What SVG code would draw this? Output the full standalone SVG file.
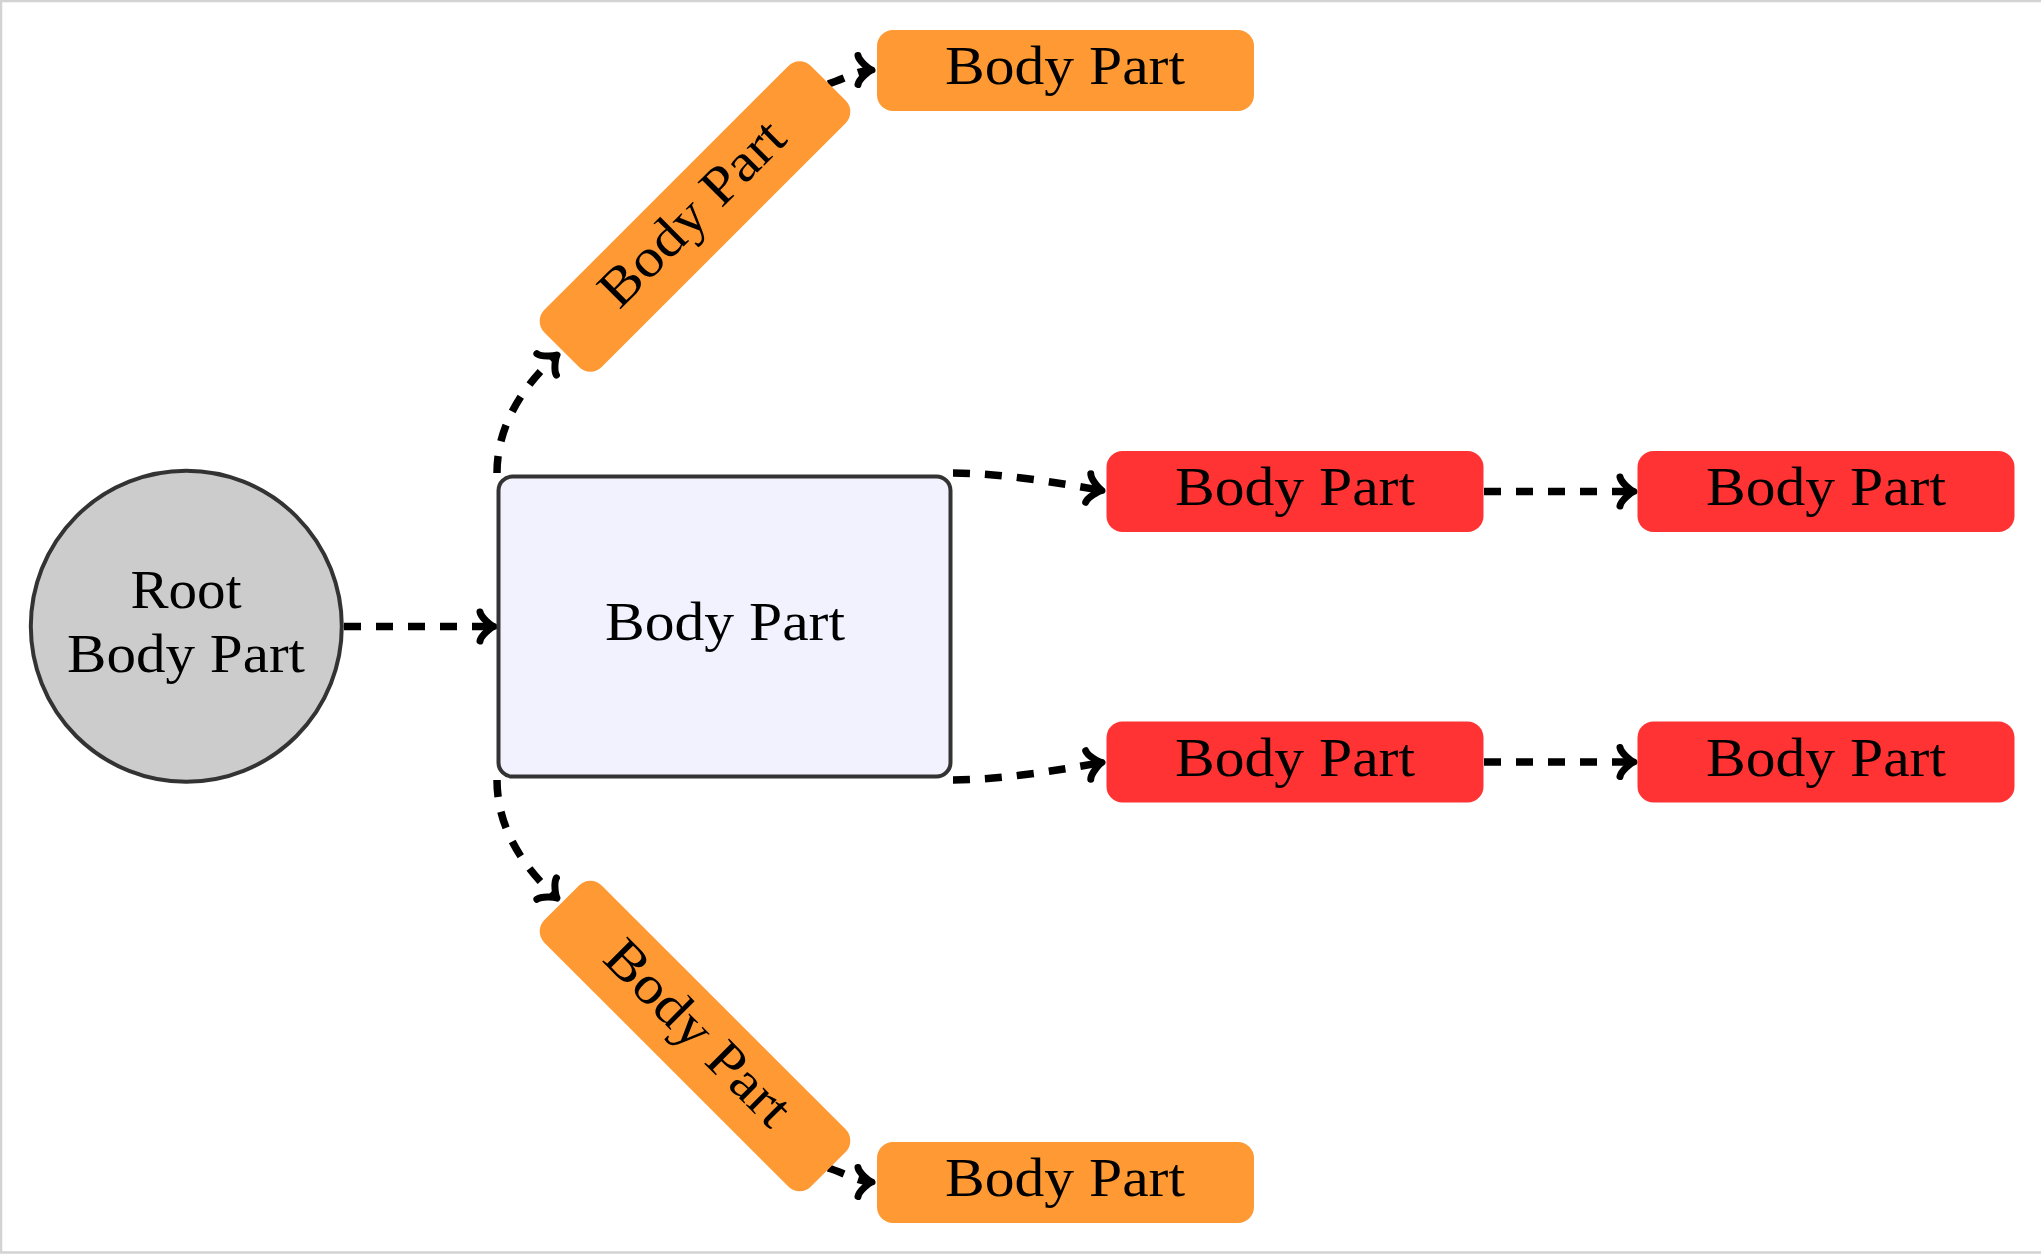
<svg xmlns="http://www.w3.org/2000/svg" width="2041" height="1254" viewBox="0 0 2041 1254">
  <style>
    .lbl { font-family: "Liberation Serif", "DejaVu Serif", serif; font-size: 54px; fill: #000; text-anchor: middle; }
    .orange { fill: #ff9933; }
    .red { fill: #ff3333; }
    .conn { fill: none; stroke: #000; stroke-width: 7.5; stroke-dasharray: 17 15; marker-end: url(#arr); }
  </style>
  <defs>
    <marker id="arr" markerUnits="userSpaceOnUse" viewBox="-25 -25 50 50" markerWidth="50" markerHeight="50" refX="0" refY="0" orient="auto" overflow="visible">
      <path d="M -14 14.5 C -13 9 -3 1 0 0 C -3 -1 -13 -9 -14 -14.5" fill="none" stroke="#000" stroke-width="7" stroke-linecap="round" stroke-linejoin="round" stroke-dasharray="none"/>
    </marker>
  </defs>
  <rect x="0" y="0" width="2041" height="1254" fill="#ffffff"/>
  <rect x="1" y="1" width="2070" height="1251.5" fill="none" stroke="#d3d3d3" stroke-width="2.5"/>

  <g id="connectors">
    <path class="conn" d="M 344 626.5 L 494 626.5"/>
    <path class="conn" d="M 497 473 C 497 425 523 386 557 355"/>
    <path class="conn" d="M 497 780 C 497 828 523 867 557 898"/>
    <path class="conn" d="M 953 473 C 1000 473 1060 483 1102 490.5"/>
    <path class="conn" d="M 953 780 C 1000 780 1060 770 1102 762.5"/>
    <path class="conn" d="M 1484 491.5 L 1634 491.5"/>
    <path class="conn" d="M 1484 762 L 1634 762"/>
    <path class="conn" d="M 828 84 C 845 79 858 70 872 70"/>
    <path class="conn" d="M 828 1168 C 845 1173 858 1182 872 1182"/>
  </g>

  <g id="root">
    <circle cx="186.3" cy="626.3" r="155.5" fill="#cccccc" stroke="#333333" stroke-width="4"/>
    <text class="lbl" x="186" y="608" textLength="111" lengthAdjust="spacingAndGlyphs">Root</text>
    <text class="lbl" x="186" y="672" textLength="238" lengthAdjust="spacingAndGlyphs">Body Part</text>
  </g>

  <g id="center">
    <rect x="498.5" y="476.5" width="452" height="300" rx="14" fill="#f2f2ff" stroke="#333333" stroke-width="4"/>
    <text class="lbl" x="725" y="640" textLength="240" lengthAdjust="spacingAndGlyphs">Body Part</text>
  </g>

  <g id="diag-top" transform="translate(695,216.5) rotate(-45)">
    <rect class="orange" x="-188.5" y="-40.5" width="377" height="81" rx="16"/>
    <text class="lbl" x="0" y="13" textLength="240" lengthAdjust="spacingAndGlyphs">Body Part</text>
  </g>

  <g id="diag-bottom" transform="translate(695,1036) rotate(45)">
    <rect class="orange" x="-188.5" y="-40.5" width="377" height="81" rx="16"/>
    <text class="lbl" x="0" y="13" textLength="240" lengthAdjust="spacingAndGlyphs">Body Part</text>
  </g>

  <g id="orange-top">
    <rect class="orange" x="877" y="30" width="377" height="81" rx="16"/>
    <text class="lbl" x="1065" y="83.5" textLength="240" lengthAdjust="spacingAndGlyphs">Body Part</text>
  </g>

  <g id="orange-bottom">
    <rect class="orange" x="877" y="1142" width="377" height="81" rx="16"/>
    <text class="lbl" x="1065" y="1195.5" textLength="240" lengthAdjust="spacingAndGlyphs">Body Part</text>
  </g>

  <g id="red-1">
    <rect class="red" x="1106.5" y="451" width="377" height="81" rx="16"/>
    <text class="lbl" x="1295" y="505" textLength="240" lengthAdjust="spacingAndGlyphs">Body Part</text>
  </g>

  <g id="red-2">
    <rect class="red" x="1637.5" y="451" width="377" height="81" rx="16"/>
    <text class="lbl" x="1826" y="505" textLength="240" lengthAdjust="spacingAndGlyphs">Body Part</text>
  </g>

  <g id="red-3">
    <rect class="red" x="1106.5" y="721.5" width="377" height="81" rx="16"/>
    <text class="lbl" x="1295" y="775.5" textLength="240" lengthAdjust="spacingAndGlyphs">Body Part</text>
  </g>

  <g id="red-4">
    <rect class="red" x="1637.5" y="721.5" width="377" height="81" rx="16"/>
    <text class="lbl" x="1826" y="775.5" textLength="240" lengthAdjust="spacingAndGlyphs">Body Part</text>
  </g>
</svg>
